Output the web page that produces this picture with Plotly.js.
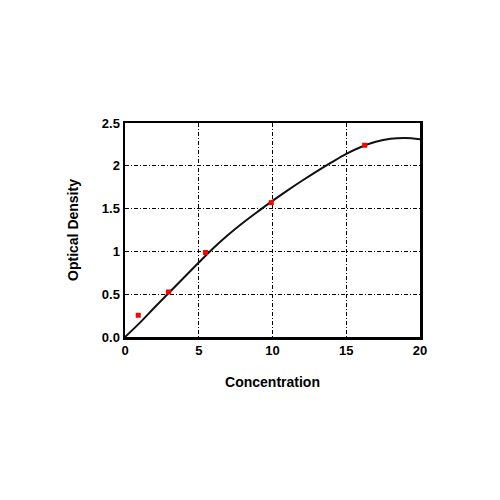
<!DOCTYPE html>
<html>
<head>
<meta charset="utf-8">
<script src="https://cdn.plot.ly/plotly-3.0.1.min.js"></script>
<style>html,body{margin:0;padding:0;background:#fff;}#chart{width:500px;height:500px;}</style>
</head>
<body>
<div id="chart"></div>
<script>
// Standard points (red squares)
const pointConc = [0.9, 2.95, 5.46, 9.92, 16.25];
const pointOD   = [0.254, 0.526, 0.987, 1.57, 2.24];

// Fitted curve
const curveConc = [0, 1, 2, 3, 4, 5, 6, 7, 8, 9, 10, 11, 12, 13, 14, 15, 16, 17, 18, 19, 20];
const curveOD   = [0, 0.165, 0.345, 0.52, 0.695, 0.87, 1.04, 1.195, 1.335, 1.465, 1.59, 1.71, 1.825, 1.935, 2.04, 2.14, 2.22, 2.28, 2.315, 2.325, 2.31];

const xTicks = [0, 5, 10, 15, 20];
const yTicks = [0, 0.5, 1, 1.5, 2, 2.5];
const yTickText = ["0.0", "0.5", "1", "1.5", "2", "2.5"];

const font = {family: "Liberation Sans, Arial, sans-serif", color: "#000", weight: "bold"};

const data = [
  {x: curveConc, y: curveOD, mode: "lines", line: {color: "#111", width: 2, shape: "spline", smoothing: 1}, hoverinfo: "skip"},
  {x: pointConc, y: pointOD, mode: "markers", marker: {color: "#ff0000", symbol: "square", size: 5}}
];

const layout = {
  width: 500, height: 500,
  margin: {l: 125, r: 80, t: 123, b: 163},
  paper_bgcolor: "#fff", plot_bgcolor: "#fff",
  showlegend: false,
  font: Object.assign({size: 13}, font),
  xaxis: {
    range: [0, 20], tickvals: xTicks, ticktext: xTicks.map(String),
    showgrid: true, gridcolor: "#000", griddash: "4px,2px,1px,2px", gridwidth: 1,
    showline: true, linecolor: "#000", linewidth: 2.5, mirror: true,
    ticks: "", zeroline: false,
    tickfont: Object.assign({size: 13}, font),
    title: {text: "Concentration", font: Object.assign({size: 14}, font), standoff: 20}
  },
  yaxis: {
    range: [0, 2.5], tickvals: yTicks, ticktext: yTickText,
    showgrid: true, gridcolor: "#000", griddash: "4px,2px,1px,2px", gridwidth: 1,
    showline: true, linecolor: "#000", linewidth: 2.5, mirror: true,
    ticks: "", zeroline: false,
    tickfont: Object.assign({size: 13}, font),
    title: {text: "Optical Density", font: Object.assign({size: 14}, font), standoff: 20}
  }
};

Plotly.newPlot("chart", data, layout, {staticPlot: true, displayModeBar: false});
</script>
</body>
</html>
